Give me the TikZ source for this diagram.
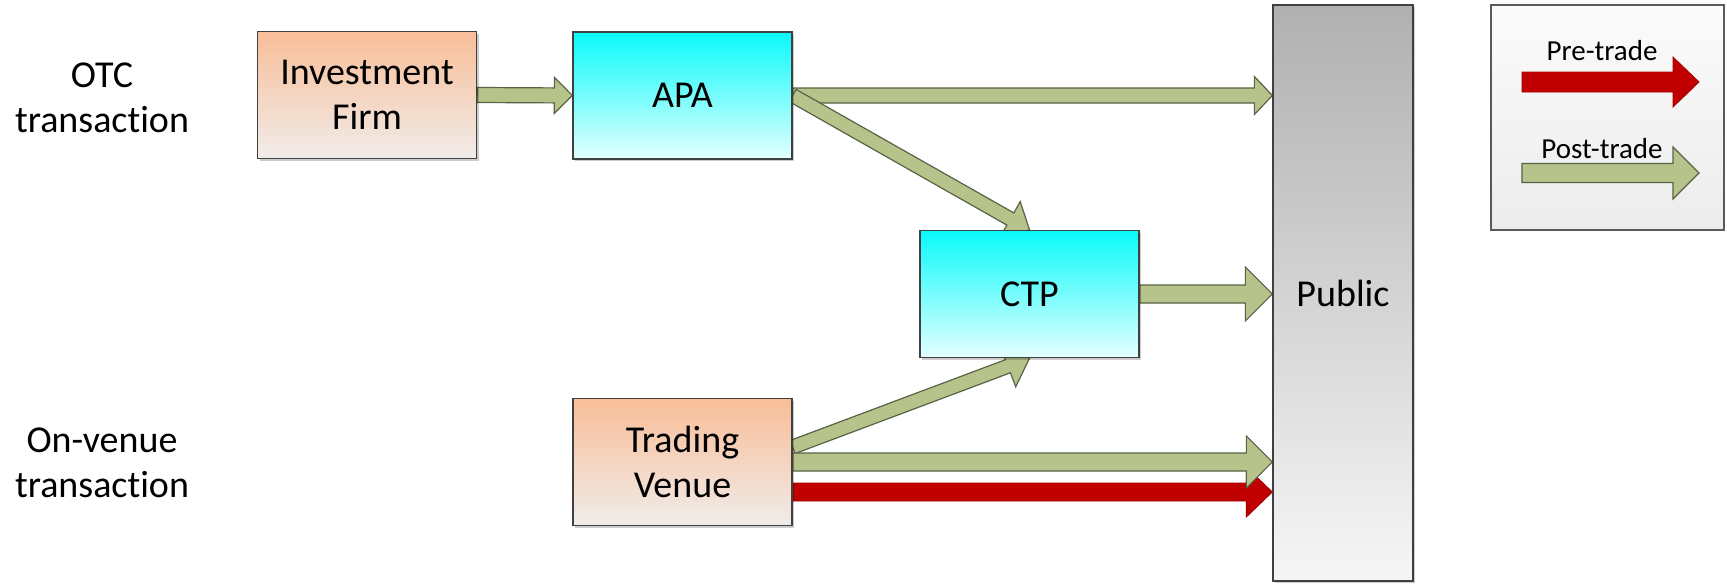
\documentclass[tikz,border=0pt]{standalone}
\usepackage{fontspec}
\setmainfont{Carlito}[Ligatures={NoCommon}]
\usetikzlibrary{calc,shadows}
\definecolor{boxline}{RGB}{64,64,64}
\definecolor{peachtop}{RGB}{248,190,152}
\definecolor{peachbot}{RGB}{241,236,234}
\definecolor{cyantop}{RGB}{10,250,250}
\definecolor{cyanbot}{RGB}{228,255,255}
\definecolor{graytop}{RGB}{176,176,176}
\definecolor{graybot}{RGB}{246,246,246}
\definecolor{gfill}{RGB}{182,196,140}
\definecolor{gline}{RGB}{88,98,68}
\definecolor{rfill}{RGB}{192,0,0}
\definecolor{rline}{RGB}{165,0,0}
\definecolor{legtop}{RGB}{251,251,251}
\definecolor{legbot}{RGB}{236,236,236}
\definecolor{legline}{RGB}{90,90,90}
\pgfdeclarelayer{bg}
\pgfsetlayers{bg,main}
% #1 style, #2 from, #3 to, #4 half shaft, #5 half head, #6 head length
\newcommand\blockarrow[6]{%
  \path[#1] let \p1=(#2), \p2=(#3), \p3=($(#3)!#6!(#2)$) in
    ($(\p1)!#4!90:(\p2)$) -- ($(\p3)!#4!90:(\p2)$) -- ($(\p3)!#5!90:(\p2)$)
    -- (\p2) -- ($(\p3)!#5!-90:(\p2)$) -- ($(\p3)!#4!-90:(\p2)$)
    -- ($(\p1)!#4!-90:(\p2)$) -- cycle;}
\begin{document}
\begin{tikzpicture}[x=1pt,y=-1pt,
  bigtext/.style={font=\fontsize{38}{45}\selectfont},
  procbox/.style={draw=boxline, line width=1.3pt, minimum width=219pt,
    minimum height=127pt, inner sep=0pt, align=center, bigtext,
    drop shadow={shadow xshift=2pt, shadow yshift=-2pt, opacity=0.2, fill=black}},
  peachbox/.style={procbox, top color=peachtop, bottom color=peachbot},
  cyanbox/.style={procbox, top color=cyantop, bottom color=cyanbot},
  sidetext/.style={align=center, bigtext, inner sep=0pt},
  legtext/.style={font=\fontsize{29}{35}\selectfont, anchor=base, inner sep=0pt},
  post/.style={fill=gfill, draw=gline, line width=1.2pt, line join=miter},
  pre/.style={fill=rfill, draw=rline, line width=0.8pt, line join=miter},
]
\useasboundingbox (0,0) rectangle (1727,584);
% left labels
\node[sidetext] (otc) at (102,97.5) {OTC\\transaction};
\node[sidetext] (onv) at (102,463) {On-venue\\transaction};
% boxes
\node[peachbox] (IF) at (367,95) {Investment\\Firm};
\node[cyanbox] (APA) at (682.5,95.5) {APA};
\node[cyanbox] (CTP) at (1029.5,294) {CTP};
\node[peachbox] (TV) at (682.5,462) {Trading\\Venue};
\node[draw=boxline, line width=1.3pt, top color=graytop, bottom color=graybot,
  minimum width=140pt, minimum height=576pt, inner sep=0pt, bigtext,
  drop shadow={shadow xshift=2pt, shadow yshift=-2pt, opacity=0.2, fill=black}]
  (Public) at (1343,293) {Public};
% helper coordinates
\coordinate (pA) at (Public.west |- APA.east);
\coordinate (pC) at (Public.west |- CTP.east);
\coordinate (pT) at (Public.west |- TV.east);
\coordinate (tvR) at ($(TV.east)+(0,30)$);
\coordinate (pR) at (Public.west |- tvR);
\coordinate (tvD) at ($(TV.east)+(0,-15)$);
% connectors
\begin{pgfonlayer}{bg}
\blockarrow{post}{IF.east}{APA.west}{7.5pt}{18pt}{18pt}
\blockarrow{post}{APA.east}{pA}{7.5pt}{19pt}{18pt}
\blockarrow{post}{APA.east}{CTP.north}{7pt}{20pt}{22pt}
\blockarrow{post}{CTP.east}{pC}{9pt}{27pt}{27pt}
\blockarrow{post}{tvD}{CTP.south}{7pt}{22pt}{23pt}
\blockarrow{pre}{tvR}{pR}{9pt}{25pt}{26pt}
\blockarrow{post}{TV.east}{pT}{9pt}{26pt}{26pt}
\end{pgfonlayer}
% legend
\node[draw=legline, line width=1.3pt, top color=legtop, bottom color=legbot,
  minimum width=233pt, minimum height=225pt, inner sep=0pt] (legend) at (1607.5,117.5) {};
\node[legtext] (pretxt) at (1602,60) {Pre-trade};
\node[legtext] (posttxt) at (1602,158) {Post-trade};
\coordinate (lr1) at (1522,82);
\coordinate (lr2) at (1699,82);
\coordinate (lg1) at (1522,173);
\coordinate (lg2) at (1699,173);
\blockarrow{pre}{lr1}{lr2}{10pt}{25pt}{26pt}
\blockarrow{post}{lg1}{lg2}{9.5pt}{26pt}{26pt}
\end{tikzpicture}
\end{document}
